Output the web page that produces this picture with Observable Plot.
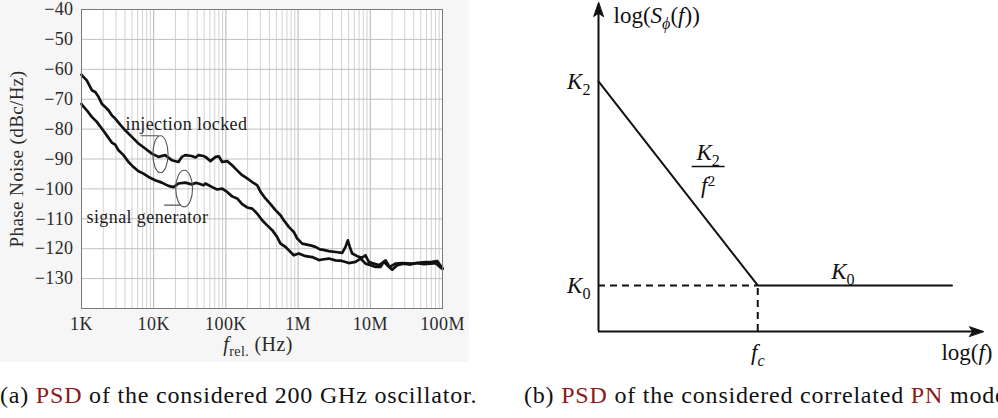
<!DOCTYPE html>
<html>
<head>
<meta charset="utf-8">
<script src="https://cdn.jsdelivr.net/npm/d3@7"></script>
<script src="https://cdn.jsdelivr.net/npm/@observablehq/plot@0.6"></script>
<style>
  html, body { margin: 0; padding: 0; background: #fff; overflow: hidden; }
  #wrap { position: relative; width: 998px; height: 418px; overflow: hidden; }
  #pa { position: absolute; left: 0; top: 0; }
  #pb { position: absolute; left: 520px; top: 0; }
  .cap { position: absolute; top: 381px; font-family: "Liberation Serif", serif; font-size: 24px; letter-spacing: 0.8px; line-height: 28px; white-space: nowrap; color: #111; }
  .cap .ref { color: #8b1a1a; }
</style>
</head>
<body>
<div id="wrap">
  <div id="pa"></div>
  <div id="pb"></div>
  <div class="cap" style="left:0px">(a) <span class="ref">PSD</span> of the considered 200 GHz oscillator.</div>
  <div class="cap" style="left:524px">(b) <span class="ref">PSD</span> of the considered correlated <span class="ref">PN</span> model.</div>
</div>
<script>
// ---------- Panel (a): measured phase noise ----------
// injection locked (upper trace): frequency offset (Hz), phase noise (dBc/Hz)
const injFreq = [1000,1010,1183,1390,1549,1719,1910,2129,2364,2628,2930,3434,4029,4976,6155,7621,9418,11650,14400,17800,22000,24500,27300,33700,37900,41700,49000,52100,61200,71800,79700,88900,104000,122000,143000,168000,197000,231000,272000,302000,353000,415000,486000,570000,634000,743000,872000,972000,1140000,1480000,1740000,2040000,2160000,2660000,3300000,4080000,4540000,4880000,5200000,5610000,6590000,7720000,8580000,9530000,11200000,13100000,14600000,16300000,18500000,22300000,27700000,38000000,52400000,72000000,84500000,96900000,100000000];
const injPN = [-61.8,-62.0,-63.7,-67.0,-67.6,-69.2,-71.5,-72.6,-73.7,-75.4,-76.5,-78.5,-80.4,-82.6,-84.8,-86.5,-88.2,-89.3,-88.7,-90.4,-91.0,-89.3,-88.7,-89.0,-89.5,-88.7,-89.0,-89.3,-90.7,-89.3,-89.1,-91.0,-90.7,-92.1,-93.8,-95.4,-96.5,-97.7,-98.8,-101.0,-103.2,-105.1,-107.1,-108.8,-110.5,-112.7,-114.4,-116.6,-118.3,-118.9,-119.4,-120.3,-120.3,-120.8,-121.1,-121.4,-119.4,-117.2,-119.4,-121.6,-122.5,-123.0,-122.2,-124.4,-125.0,-125.5,-124.8,-123.9,-126.1,-125.0,-124.8,-125.0,-124.6,-124.4,-124.1,-126.1,-126.5];
// signal generator (lower trace)
const sigFreq = [1000,1010,1183,1390,1630,1910,2240,2628,2930,3252,3818,4477,5252,6155,7219,8472,10500,12950,16000,18800,22000,27300,33700,37900,41700,49000,52100,64600,75700,88900,104000,122000,143000,168000,197000,231000,272000,318000,373000,438000,513000,570000,669000,785000,872000,1020000,1270000,1570000,1940000,2160000,2660000,3300000,4080000,5040000,6240000,7310000,8580000,10100000,11800000,13800000,15400000,17100000,20100000,23600000,29100000,36100000,44600000,55100000,68200000,80000000,93800000,100000000];
const sigPN = [-71.6,-71.8,-73.7,-75.9,-77.6,-79.8,-82.1,-84.5,-85.2,-87.1,-88.7,-91.0,-92.7,-94.1,-94.9,-96.0,-97.1,-97.9,-99.0,-99.4,-98.2,-97.9,-98.5,-98.0,-98.2,-98.8,-98.2,-99.4,-100.2,-99.9,-101.0,-102.5,-103.2,-105.1,-106.2,-106.6,-108.3,-110.5,-112.2,-113.8,-116.1,-118.3,-119.4,-121.1,-122.2,-121.6,-122.5,-122.8,-123.8,-123.6,-123.3,-123.9,-124.1,-124.8,-124.4,-123.3,-125.0,-125.5,-126.1,-126.1,-124.4,-125.5,-127.0,-125.5,-125.0,-125.3,-124.8,-125.2,-125.0,-124.8,-126.3,-126.8];
const xTicks = [1e3, 1e4, 1e5, 1e6, 1e7, 1e8];
const xTickLabels = ["1K", "10K", "100K", "1M", "10M", "100M"];
const yTicks = [-130, -120, -110, -100, -90, -80, -70, -60, -50, -40];
const yDomain = [-140, -40];
// annotation labels and their ellipse markers (frequency, dB)
const labelText = ["injection locked", "signal generator"];
const labelFreq = [28400, 8200];
const labelPN = [-78.4, -109.5];
const markFreq = [12400, 26400];
const markPN = [-88.4, -99.9];

// ---------- Panel (b): correlated PN model ----------
const logF = [0, 4.55, 10.1];   // start, f_c, end (log f, arbitrary units)
const logS = [7.6, 1.4, 1.4];   // K2, K0, K0 (log S, arbitrary units)
const axisMax = [11, 10];       // arrow tips of the log f and log S axes

// ---------- helpers ----------
function richify(svg) {
  d3.select(svg).selectAll("text").each(function () {
    const s = this.textContent;
    if (!s.includes("|")) return;
    const fs = parseFloat(getComputedStyle(this).fontSize) || 16;
    this.textContent = "";
    let cur = 0;
    for (const seg of s.split("|")) {
      if (!seg) continue;
      const m = seg.match(/^(i|b|bi|p):(.*)$/);
      const code = m ? m[1] : "";
      const txt = m ? m[2] : seg;
      let shift = 0, size = null, ital = false;
      if (code === "i") ital = true;
      if (code === "b" || code === "bi") { shift = 0.28 * fs; size = 0.7 * fs; }
      if (code === "bi") ital = true;
      if (code === "p") { shift = -0.3 * fs; size = 0.68 * fs; }
      const t = d3.select(this).append("tspan").text(txt);
      if (ital) t.attr("font-style", "italic");
      if (size) t.attr("font-size", size);
      if (shift !== cur) { t.attr("dy", shift - cur); cur = shift; }
    }
  });
}
function ellipsePath(ctx, rx, ry) {
  const k = 0.5523;
  ctx.moveTo(rx, 0);
  ctx.bezierCurveTo(rx, ry * k, rx * k, ry, 0, ry);
  ctx.bezierCurveTo(-rx * k, ry, -rx, ry * k, -rx, 0);
  ctx.bezierCurveTo(-rx, -ry * k, -rx * k, -ry, 0, -ry);
  ctx.bezierCurveTo(rx * k, -ry, rx, -ry * k, rx, 0);
  ctx.closePath();
}
const markerTop = { draw(ctx) { ellipsePath(ctx, 7.6, 18.5); ctx.moveTo(-2, -18.5); ctx.lineTo(-20, -18.5); } };
const markerBottom = { draw(ctx) { ellipsePath(ctx, 8.4, 18.3); ctx.moveTo(-4, 16.5); ctx.lineTo(-20, 16.5); } };

// ---------- build panel (a) ----------
const inj = injFreq.map((f, i) => ({ f, pn: injPN[i] }));
const sig = sigFreq.map((f, i) => ({ f, pn: sigPN[i] }));
const minorTicks = xTicks.slice(0, -1).flatMap(d => d3.range(2, 10).map(k => d * k));
const labels = labelText.map((t, i) => ({ t, f: labelFreq[i], pn: labelPN[i] }));
const marks = markFreq.map((f, i) => ({ f, pn: markPN[i] }));

const chartA = Plot.plot({
  width: 469, height: 362,
  marginLeft: 81, marginRight: 27, marginTop: 9, marginBottom: 54,
  style: { background: "#f6f6f6", fontFamily: "'Liberation Serif', serif", fontSize: "18px", letterSpacing: "0.4px", color: "#222" },
  x: { type: "log", domain: [1e3, 1e8] },
  y: { domain: yDomain },
  marks: [
    Plot.frame({ fill: "white", stroke: "none" }),
    Plot.ruleX(minorTicks, { stroke: "#d2d2d2", strokeWidth: 1 }),
    Plot.ruleX(xTicks, { stroke: "#b4b4b4", strokeWidth: 1 }),
    Plot.ruleY(yTicks, { stroke: "#c0c0c0", strokeWidth: 1 }),
    Plot.line(inj, { x: "f", y: "pn", stroke: "#111", strokeWidth: 2.7, strokeLinejoin: "round" }),
    Plot.line(sig, { x: "f", y: "pn", stroke: "#111", strokeWidth: 2.7, strokeLinejoin: "round" }),
    Plot.dot(marks.slice(0, 1), { x: "f", y: "pn", symbol: markerTop, stroke: "#555", strokeWidth: 1.1, fill: "none" }),
    Plot.dot(marks.slice(1), { x: "f", y: "pn", symbol: markerBottom, stroke: "#555", strokeWidth: 1.1, fill: "none" }),
    Plot.text(labels, { x: "f", y: "pn", text: "t", fill: "#1a1a1a", fontSize: 18 }),
    Plot.frame({ stroke: "#7a7a7a", strokeWidth: 1 }),
    Plot.axisX({ ticks: xTicks, tickFormat: (d) => xTickLabels[xTicks.indexOf(d)], tickSize: 0, tickPadding: 9, label: null, fill: "#2a2a2a", fontSize: 18 }),
    Plot.axisY({ ticks: yTicks, tickFormat: d => "\u2212" + Math.abs(d), tickSize: 0, tickPadding: 8, label: null, fill: "#2a2a2a", fontSize: 18 }),
    Plot.text(["Phase Noise (dBc/Hz)"], { text: d => d, frameAnchor: "left", textAnchor: "middle", rotate: -90, dx: -65, fill: "#2a2a2a", fontSize: 19 }),
    Plot.text(["i:f|b:rel.| (Hz)"], { text: d => d, frameAnchor: "bottom", textAnchor: "middle", dy: 42, dx: -4, fill: "#2a2a2a", fontSize: 20 })
  ]
});
document.getElementById("pa").append(chartA);
richify(chartA);

// ---------- build panel (b) ----------
const model = logF.map((x, i) => ({ x, y: logS[i] }));
const K2 = logS[0], K0 = logS[1], fc = logF[1];
const [xMax, yMax] = axisMax;
const slopeMid = { x: (logF[0] + logF[1]) / 2, y: (logS[0] + logS[1]) / 2 };
const flatMid = { x: (logF[1] + logF[2]) / 2, y: logS[2] };
const stealth = { draw(ctx, l) { ctx.moveTo(0, -l); ctx.lineTo(-4.8, 0); ctx.lineTo(0, -3.2); ctx.lineTo(4.8, 0); ctx.closePath(); } };
const fracBar = { draw(ctx) { ctx.moveTo(-16.5, 0); ctx.lineTo(16.5, 0); } };

const chartB = Plot.plot({
  width: 478, height: 368,
  marginLeft: 78, marginRight: 15, marginTop: 2, marginBottom: 37,
  style: { background: "transparent", fontFamily: "'Liberation Serif', serif", fontSize: "23px", color: "#111" },
  x: { domain: [0, xMax], axis: null },
  y: { domain: [0, yMax], axis: null },
  marks: [
    Plot.ruleY([0], { x1: 0, x2: xMax - 0.1, stroke: "#111", strokeWidth: 2 }),
    Plot.ruleX([0], { y1: 0, y2: yMax - 0.1, stroke: "#111", strokeWidth: 2 }),
    Plot.vector([{ x: xMax, y: 0, r: 90 }, { x: 0, y: yMax, r: 0 }], { x: "x", y: "y", rotate: "r", length: 14, anchor: "end", shape: stealth, fill: "#111", stroke: "#111", strokeWidth: 1 }),
    Plot.ruleY([K0], { x1: 0, x2: fc, stroke: "#111", strokeWidth: 2, strokeDasharray: "7,5" }),
    Plot.ruleX([fc], { y1: 0, y2: K0, stroke: "#111", strokeWidth: 2, strokeDasharray: "7,5" }),
    Plot.line(model, { x: "x", y: "y", stroke: "#111", strokeWidth: 2 }),
    Plot.text([{ y: K2, t: "i:K|b:2" }, { y: K0, t: "i:K|b:0" }], { x: 0, y: "y", text: "t", textAnchor: "end", dx: -8 }),
    Plot.text(["i:f|bi:c"], { x: fc, y: 0, text: d => d, dy: 21 }),
    Plot.text(["log(|i:f|)"], { x: xMax, y: 0, text: d => d, textAnchor: "end", dx: 9, dy: 21 }),
    Plot.text(["log(|i:S|bi:\u03d5|(|i:f|))"], { x: 0, y: yMax, text: d => d, textAnchor: "start", dx: 15, dy: 13 }),
    Plot.text([slopeMid], { x: "x", y: "y", text: () => "i:K|b:2", dx: 30, dy: -31 }),
    Plot.dot([slopeMid], { x: "x", y: "y", symbol: fracBar, stroke: "#111", strokeWidth: 1.4, dx: 30, dy: -17 }),
    Plot.text([slopeMid], { x: "x", y: "y", text: () => "i:f|p:2", dx: 30, dy: 2 }),
    Plot.text([flatMid], { x: "x", y: "y", text: () => "i:K|b:0", dx: -12, dy: -14 })
  ]
});
document.getElementById("pb").append(chartB);
richify(chartB);
</script>
</body>
</html>
